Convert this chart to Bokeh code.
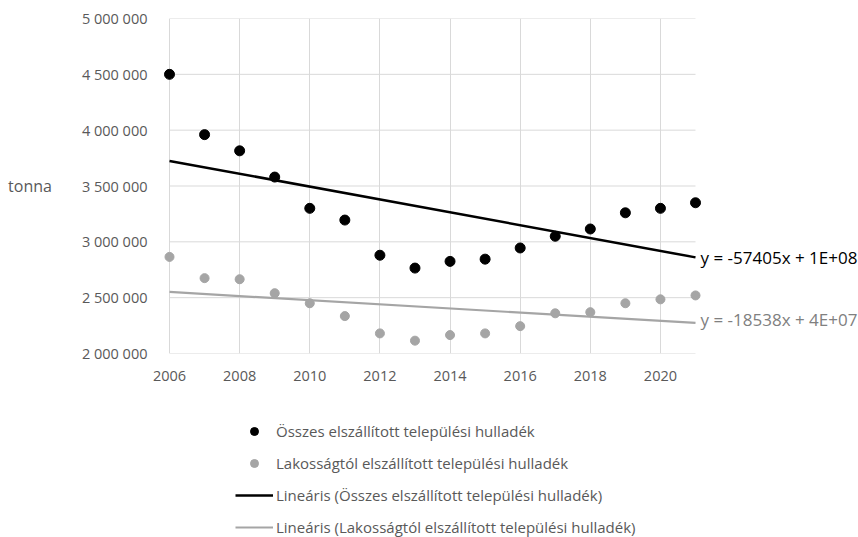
import numpy as np
from bokeh.plotting import figure
from bokeh.layouts import column
from bokeh.models import Range1d, FixedTicker, Legend, LegendItem, Label
from bokeh.embed import file_html
from bokeh.resources import INLINE

years = list(range(2006, 2022))
total = [4500000, 3960000, 3815000, 3580000, 3300000, 3195000, 2880000, 2765000,
         2825000, 2845000, 2945000, 3050000, 3115000, 3260000, 3300000, 3350000]
household = [2865000, 2675000, 2665000, 2540000, 2450000, 2335000, 2180000, 2115000,
             2165000, 2180000, 2245000, 2360000, 2370000, 2450000, 2485000, 2520000]

x_ticks = [2006, 2008, 2010, 2012, 2014, 2016, 2018, 2020]
y_ticks = [2000000, 2500000, 3000000, 3500000, 4000000, 4500000, 5000000]
y_tick_labels = ["2 000 000", "2 500 000", "3 000 000", "3 500 000",
                 "4 000 000", "4 500 000", "5 000 000"]
series_names = ["Összes elszállított települési hulladék",
                "Lakosságtól elszállított települési hulladék",
                "Lineáris (Összes elszállított települési hulladék)",
                "Lineáris (Lakosságtól elszállított települési hulladék)"]
eq_total = "y = -57405x + 1E+08"
eq_household = "y = -18538x + 4E+07"
y_label = "tonna"

X_START, X_END = 2006, 2021
Y_START, Y_END = 2000000, 5000000
X_PAD_LEFT, X_PAD_RIGHT = 0.257, 4.648   # room for markers / trend labels

FONT = "Open Sans"
TXT = "#595959"
GRID = "#D9D9D9"
GRAY = "#A5A5A5"
W = 858

# ---------------- main chart ----------------
p = figure(width=W, height=395, output_backend="svg", toolbar_location=None,
           x_range=Range1d(X_START - X_PAD_LEFT, X_END + X_PAD_RIGHT),
           y_range=Range1d(Y_START, Y_END),
           min_border_left=160, min_border_right=0, min_border_top=18,
           min_border_bottom=42)
p.outline_line_color = None

# grid
p.ygrid.visible = False
p.xgrid.ticker = FixedTicker(ticks=x_ticks)
p.xgrid.grid_line_color = GRID
p.segment(x0=[X_START] * len(y_ticks), x1=[X_END] * len(y_ticks),
          y0=y_ticks, y1=y_ticks, line_color=GRID, line_width=1)

# axes
p.xaxis.ticker = FixedTicker(ticks=x_ticks)
p.yaxis.ticker = FixedTicker(ticks=y_ticks)
p.yaxis.major_label_overrides = {t: l for t, l in zip(y_ticks, y_tick_labels)}
for ax in (p.xaxis[0], p.yaxis[0]):
    ax.axis_line_color = None
    ax.major_tick_line_color = None
    ax.minor_tick_line_color = None
    ax.major_label_text_font = FONT
    ax.major_label_text_font_size = "14.5px"
    ax.major_label_text_color = TXT
p.xaxis.major_label_standoff = 11
p.yaxis.major_label_standoff = 7
p.yaxis.axis_label = y_label
p.yaxis.axis_label_orientation = "horizontal"
p.yaxis.axis_label_standoff = 27
p.yaxis.axis_label_text_font = FONT
p.yaxis.axis_label_text_font_style = "normal"
p.yaxis.axis_label_text_font_size = "16px"
p.yaxis.axis_label_text_color = TXT

# trend lines
fit_t = np.polyfit(years, total, 1)
fit_h = np.polyfit(years, household, 1)
tx = [X_START, X_END]
p.line(tx, list(np.polyval(fit_t, tx)), line_color="black", line_width=2.5)
p.line(tx, list(np.polyval(fit_h, tx)), line_color=GRAY, line_width=2.2)

# points
p.scatter(years, total, size=10, color="black")
p.scatter(years, household, size=9, color=GRAY)

p.add_layout(Label(x=X_END, y=float(np.polyval(fit_t, X_END)), x_offset=5, y_offset=0,
                   text=eq_total, text_font=FONT, text_font_size="17px",
                   text_color="black", text_baseline="middle"))
p.add_layout(Label(x=X_END, y=float(np.polyval(fit_h, X_END)), x_offset=5, y_offset=3,
                   text=eq_household, text_font=FONT, text_font_size="17px",
                   text_color="#808080", text_baseline="middle"))

# ---------------- legend strip ----------------
# legend swatches need renderers with data; the strip's ranges keep them out of view
q = figure(width=W, height=142, output_backend="svg", toolbar_location=None,
           x_axis_location=None, y_axis_location=None,
           x_range=Range1d(0, 1), y_range=Range1d(0, 1),
           min_border_left=0, min_border_right=0, min_border_top=0,
           min_border_bottom=0)
q.outline_line_color = None
q.xgrid.visible = False
q.ygrid.visible = False
lg_t = q.scatter(years, total, size=10, color="black")
lg_h = q.scatter(years, household, size=9, color=GRAY)
lg_lt = q.line(tx, list(np.polyval(fit_t, tx)), line_color="black", line_width=2.5)
lg_lh = q.line(tx, list(np.polyval(fit_h, tx)), line_color=GRAY, line_width=2.2)

legend = Legend(items=[LegendItem(label=series_names[0], renderers=[lg_t]),
                       LegendItem(label=series_names[1], renderers=[lg_h]),
                       LegendItem(label=series_names[2], renderers=[lg_lt]),
                       LegendItem(label=series_names[3], renderers=[lg_lh])],
                orientation="vertical", location=(75, 0),
                label_text_font=FONT, label_text_font_size="15px",
                label_text_color=TXT, glyph_width=38, glyph_height=20,
                label_height=20, spacing=12, padding=0, margin=0,
                label_standoff=3, border_line_color=None,
                background_fill_alpha=0)
q.add_layout(legend, "center")

open("out.html", "w").write(file_html(column(p, q, spacing=0), INLINE))
